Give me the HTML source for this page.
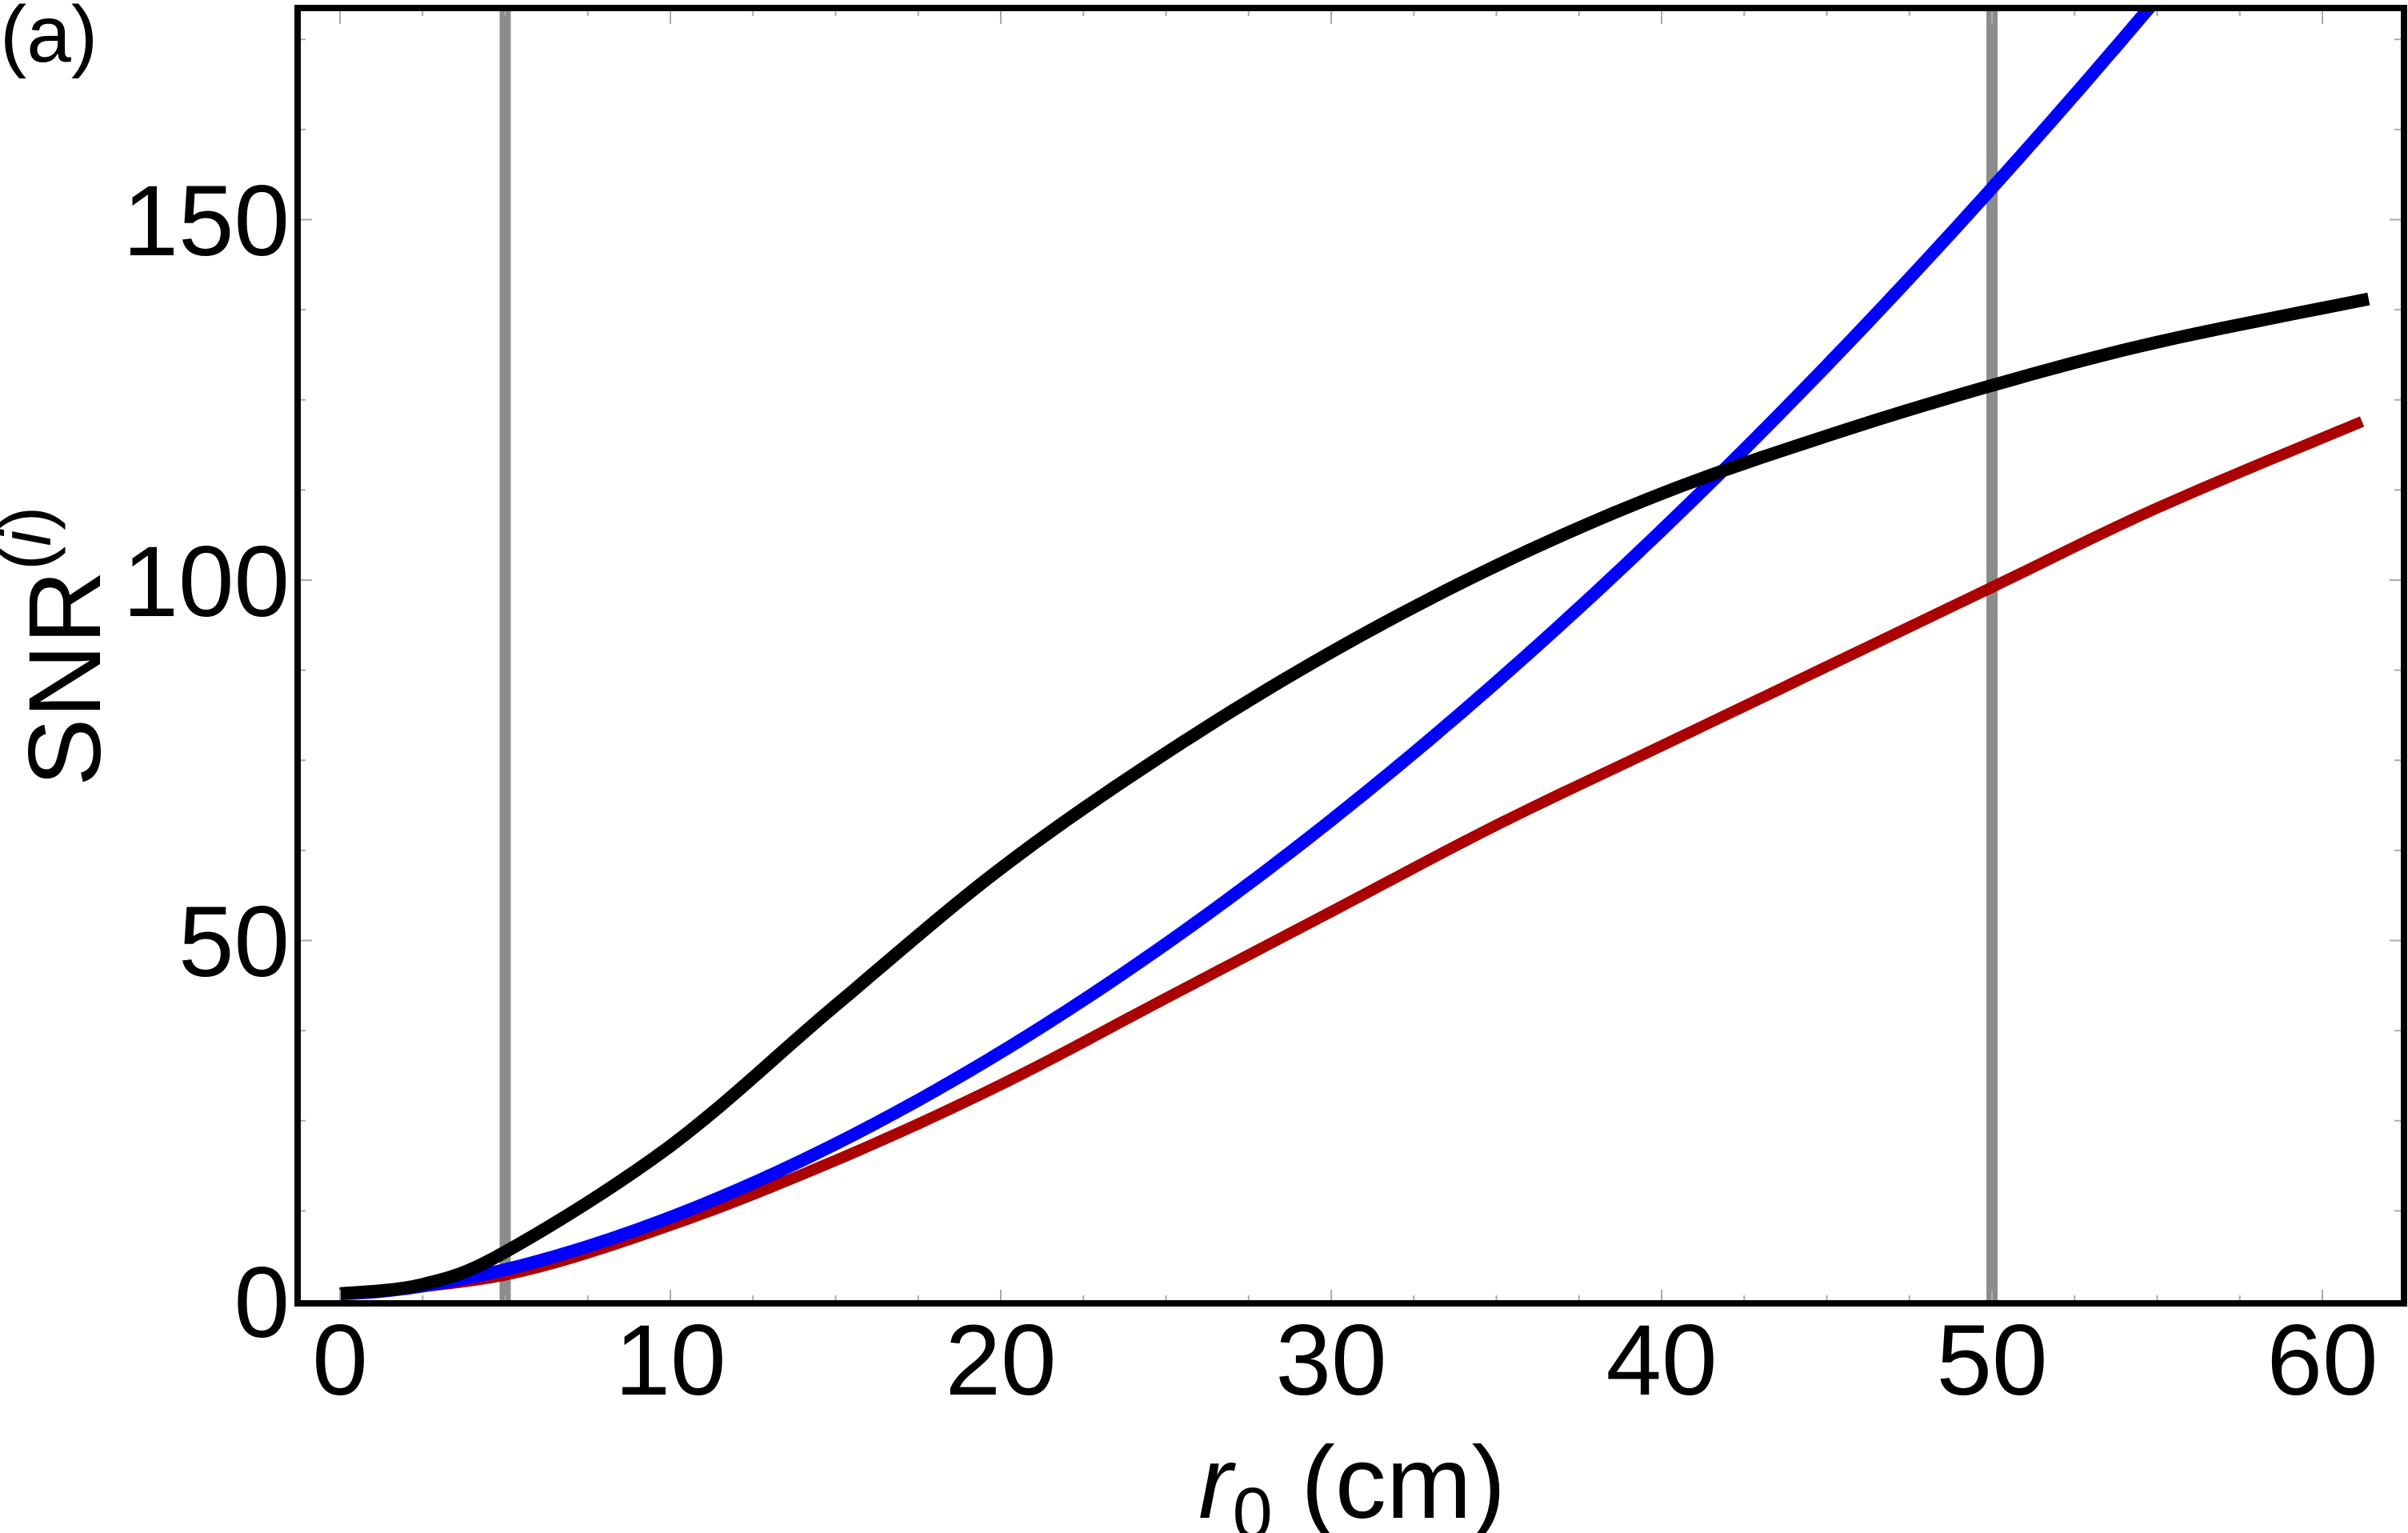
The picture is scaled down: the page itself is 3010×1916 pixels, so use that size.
<!DOCTYPE html>
<html><head><meta charset="utf-8"><style>
html,body{margin:0;padding:0;background:#fff;}
svg{display:block;}
text{font-family:"Liberation Sans",Arial,sans-serif;fill:#000;}
</style></head><body>
<svg id="s" width="3010" height="1916" viewBox="0 0 3010 1916" xmlns="http://www.w3.org/2000/svg">
<defs><clipPath id="c"><rect x="372" y="10" width="2633" height="1619"/></clipPath></defs>
<rect width="3010" height="1916" fill="#fff"/>
<g clip-path="url(#c)">
<line x1="631.5" y1="0" x2="631.5" y2="1640" stroke="#8c8c8c" stroke-width="14"/>
<line x1="2490" y1="0" x2="2490" y2="1640" stroke="#8c8c8c" stroke-width="14"/>
<path id="red" fill="none" stroke="#aa0000" stroke-width="14" stroke-linecap="butt"/>
<path id="blue" fill="none" stroke="#0000ff" stroke-width="16" stroke-linecap="butt"/>
<path id="black" fill="none" stroke="#000" stroke-width="16" stroke-linecap="butt"/>
</g>
<g id="ticks" stroke="#aaa" stroke-width="2"></g>
<rect x="372" y="10" width="2633" height="1619" fill="none" stroke="#000" stroke-width="8"/>
<g font-size="125" text-anchor="end">
<text x="362" y="1671">0</text>
<text x="362" y="1220">50</text>
<text x="362" y="770">100</text>
<text x="362" y="319">150</text>
</g>
<g font-size="125" text-anchor="middle">
<text x="425" y="1743">0</text>
<text x="838" y="1743">10</text>
<text x="1251" y="1743">20</text>
<text x="1664" y="1743">30</text>
<text x="2077" y="1743">40</text>
<text x="2490" y="1743">50</text>
<text x="2903" y="1743">60</text>
</g>
<text x="0" y="77" font-size="100">(a)</text>
<text transform="translate(125,983) rotate(-90)" font-size="128">SNR<tspan font-size="90" dy="-62">(</tspan><tspan font-size="90" font-style="italic">i</tspan><tspan font-size="90">)</tspan></text>
<text x="1498" y="1897" font-size="128"><tspan font-style="italic">r</tspan><tspan font-size="90" dy="25">0</tspan><tspan dy="-25"> (cm)</tspan></text>
</svg>
<script>
function X(x){return 425+41.3*x;}
function Y(v){return 1626-9.01*v;}
function cr(pts){
  var d="M"+X(pts[0][0]).toFixed(1)+","+Y(pts[0][1]).toFixed(1);
  for(var i=0;i<pts.length-1;i++){
    var p0=pts[Math.max(i-1,0)],p1=pts[i],p2=pts[i+1],p3=pts[Math.min(i+2,pts.length-1)];
    for(var t=0.1;t<=1.0001;t+=0.1){
      var t2=t*t,t3=t2*t;
      var f=function(a,b,c,e){return 0.5*((2*b)+(-a+c)*t+(2*a-5*b+4*c-e)*t2+(-a+3*b-3*c+e)*t3);};
      var x=f(p0[0],p1[0],p2[0],p3[0]),v=f(p0[1],p1[1],p2[1],p3[1]);
      d+=" L"+X(x).toFixed(1)+","+Y(v).toFixed(1);
    }
  }
  return d;
}
var black=[[0,1],[2.5,2.3],[5,6.8],[10,21.5],[15,41],[20,60],[25,76],[30,90],[35,102],[40,112],[45,120],[50,127],[55,133],[61.4,139]];
var red=[[0,1],[5,3.6],[10,10.5],[15,19.5],[20,30],[25,42],[30,54],[35,66],[40,77],[45,88],[50,99],[55,110],[61.2,122]];
document.getElementById("black").setAttribute("d",cr(black));
document.getElementById("red").setAttribute("d",cr(red));
var d="";for(var x=0;x<=58;x+=0.25){var v=1+0.232*Math.pow(x,1.66);d+=(x==0?"M":" L")+X(x).toFixed(1)+","+Y(v).toFixed(1);}
document.getElementById("blue").setAttribute("d",d);
var g=document.getElementById("ticks"),s="";
for(var x=0;x<=62;x+=2.5){var xx=X(x);s+='<line x1="'+xx+'" y1="1625" x2="'+xx+'" y2="'+(x%10==0?1612:1619)+'"/>';s+='<line x1="'+xx+'" y1="14" x2="'+xx+'" y2="'+(x%10==0?30:20)+'"/>';}
for(var v=0;v<=175;v+=12.5){var yy=Y(v);s+='<line x1="376" y1="'+yy+'" x2="'+(v%50==0?390:382)+'" y2="'+yy+'"/>';s+='<line x1="3001" y1="'+yy+'" x2="'+(v%50==0?2987:2993)+'" y2="'+yy+'"/>';}
g.innerHTML=s;
</script>
</body></html>
